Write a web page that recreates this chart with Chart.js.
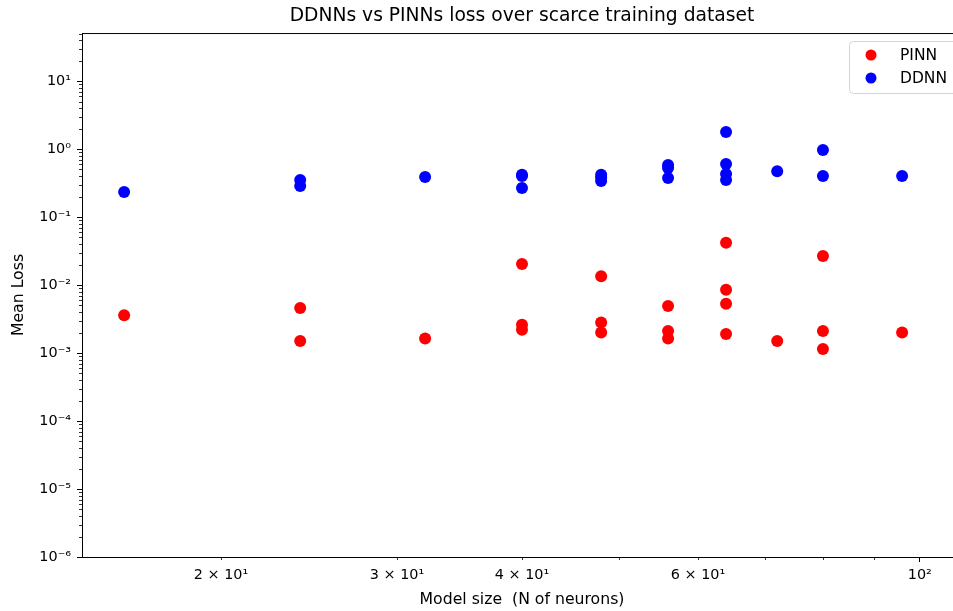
<!DOCTYPE html>
<html>
<head>
<meta charset="utf-8">
<script src="https://cdn.jsdelivr.net/npm/chart.js@4"></script>
<style>
  body { margin: 0; overflow: hidden; background: #fff; }
  #wrap { width: 962px; height: 611px; }
</style>
</head>
<body>
<div id="wrap"><canvas id="lossChart" width="962" height="611"></canvas></div>
<script>
// values
const pinnN = [16, 24, 24, 32, 40, 40, 40, 48, 48, 48, 56, 56, 56, 64, 64, 64, 64, 72, 80, 80, 80, 96];
const pinnLoss = [0.0036, 0.0046, 0.0015, 0.00163, 0.0204, 0.0026, 0.0022, 0.0135, 0.0028, 0.0020,
    0.0049, 0.0021, 0.00163, 0.042, 0.0085, 0.0053, 0.0019, 0.0015, 0.0267, 0.0021, 0.00115, 0.0020];

const ddnnN = [16, 24, 24, 32, 40, 40, 40, 48, 48, 48, 56, 56, 56, 64, 64, 64, 64, 72, 80, 80, 96];
const ddnnLoss = [0.233, 0.35, 0.285, 0.388, 0.42, 0.40, 0.267, 0.42, 0.38, 0.34, 0.58, 0.525, 0.375,
    1.78, 0.6, 0.43, 0.35, 0.47, 0.97, 0.40, 0.40];

const xTicks = [20, 30, 40, 50, 60, 70, 80, 90, 100];
const xLabels = {20: '2 × 10¹', 30: '3 × 10¹', 40: '4 × 10¹', 60: '6 × 10¹', 100: '10²'};
const yTicks = [1e-6, 1e-5, 1e-4, 1e-3, 1e-2, 1e-1, 1, 10];
const yLabels = ['10⁻⁶', '10⁻⁵', '10⁻⁴', '10⁻³', '10⁻²', '10⁻¹', '10⁰', '10¹'];

const FONT = 'DejaVu Sans';

function toPoints(xs, ys) {
    return xs.map((x, i) => ({x: x, y: ys[i]}));
}

// minor ticks, top/right spines and the legend box
const extras = {
    id: 'extras',
    afterDraw(chart) {
        const ctx = chart.ctx;
        const a = chart.chartArea;
        const xs = chart.scales.x, ys = chart.scales.y;
        ctx.save();
        ctx.strokeStyle = '#000';
        ctx.lineWidth = 1;
        ctx.beginPath();
        ctx.moveTo(a.left, a.top + 0.5);
        ctx.lineTo(a.right, a.top + 0.5);
        ctx.moveTo(a.right - 0.5, a.top);
        ctx.lineTo(a.right - 0.5, a.bottom);
        ctx.stroke();

        ctx.lineWidth = 0.8;
        ctx.beginPath();
        xTicks.filter(v => v !== 100).forEach(v => {
            const px = Math.round(xs.getPixelForValue(v)) + 0.5;
            ctx.moveTo(px, a.bottom);
            ctx.lineTo(px, a.bottom + 3);
        });
        for (let e = -6; e <= 1; e++) {
            for (let m = 2; m <= 9; m++) {
                const v = m * Math.pow(10, e);
                if (v > ys.max) break;
                const py = Math.round(ys.getPixelForValue(v)) + 0.5;
                ctx.moveTo(a.left, py);
                ctx.lineTo(a.left - 3, py);
            }
        }
        ctx.stroke();

        // legend
        const lx = 849.5, ly = 41.5, lw = 120, lh = 52;
        ctx.fillStyle = 'rgba(255,255,255,0.8)';
        ctx.strokeStyle = '#d4d4d4';
        ctx.lineWidth = 1;
        ctx.beginPath();
        ctx.roundRect(lx, ly, lw, lh, 4);
        ctx.fill();
        ctx.stroke();
        ctx.font = '15.5px "' + FONT + '"';
        ctx.textBaseline = 'middle';
        chart.data.datasets.forEach((ds, i) => {
            const cy = 55 + i * 23;
            ctx.fillStyle = ds.backgroundColor;
            ctx.beginPath();
            ctx.arc(871, cy, 5.5, 0, Math.PI * 2);
            ctx.fill();
            ctx.fillStyle = '#000';
            ctx.fillText(ds.label, 900, cy + 1);
        });
        ctx.restore();
    }
};

new Chart(document.getElementById('lossChart'), {
    type: 'scatter',
    data: {
        datasets: [
            {label: 'PINN', data: toPoints(pinnN, pinnLoss), backgroundColor: '#ff0000',
             borderWidth: 0, pointRadius: 6, pointHoverRadius: 6},
            {label: 'DDNN', data: toPoints(ddnnN, ddnnLoss), backgroundColor: '#0000ff',
             borderWidth: 0, pointRadius: 6, pointHoverRadius: 6}
        ]
    },
    options: {
        responsive: false,
        animation: false,
        layout: {padding: 0, autoPadding: false},
        plugins: {
            legend: {display: false},
            tooltip: {enabled: false},
            title: {
                display: true,
                text: 'DDNNs vs PINNs loss over scarce training dataset',
                fullSize: false,
                color: '#000',
                font: {family: FONT, size: 18.7, weight: 'normal'},
                padding: {top: 5.3, bottom: 5.3}
            }
        },
        scales: {
            x: {
                type: 'logarithmic',
                min: 14.52,
                max: 110.2,
                afterBuildTicks: s => { s.ticks = xTicks.map(v => ({value: v})); },
                afterFit: s => { s.height = 54; s.paddingLeft = 0; s.paddingRight = 0; },
                ticks: {
                    autoSkip: false,
                    maxRotation: 0,
                    padding: 5,
                    color: '#000',
                    font: {family: FONT, size: 14.4},
                    callback: v => xLabels[v] || ''
                },
                grid: {
                    drawOnChartArea: false,
                    tickLength: 5,
                    tickWidth: 1,
                    tickColor: c => (c.tick && c.tick.value === 100) ? '#000' : 'rgba(0,0,0,0)'
                },
                border: {color: '#000', width: 1},
                title: {
                    display: true,
                    text: 'Model size  (N of neurons)',
                    color: '#000',
                    font: {family: FONT, size: 15.7},
                    padding: {top: 0, bottom: 2}
                }
            },
            y: {
                type: 'logarithmic',
                min: 1e-6,
                max: 50.8,
                afterBuildTicks: s => { s.ticks = yTicks.map(v => ({value: v})); },
                afterFit: s => { s.width = 82; s.paddingTop = 0; s.paddingBottom = 0; },
                ticks: {
                    autoSkip: false,
                    padding: 6,
                    color: '#000',
                    font: {family: FONT, size: 14.4},
                    callback: (v) => {
                        const i = yTicks.findIndex(t => Math.abs(t - v) / t < 1e-6);
                        return i >= 0 ? yLabels[i] : '';
                    }
                },
                grid: {
                    drawOnChartArea: false,
                    tickLength: 5,
                    tickWidth: 1,
                    tickColor: '#000'
                },
                border: {color: '#000', width: 1},
                title: {
                    display: true,
                    text: 'Mean Loss',
                    color: '#000',
                    font: {family: FONT, size: 15.7},
                    padding: {top: 9.6, bottom: 0}
                }
            }
        }
    },
    plugins: [extras]
});
</script>
</body>
</html>
